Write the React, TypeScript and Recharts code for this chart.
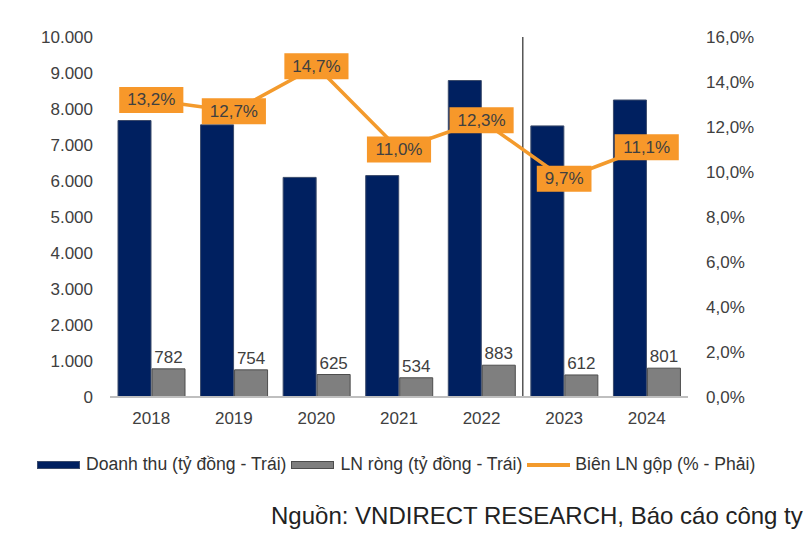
import React from 'react';
import {
  ComposedChart,
  Bar,
  Line,
  XAxis,
  YAxis,
  LabelList,
  ReferenceLine,
} from 'recharts';

const years = ['2018', '2019', '2020', '2021', '2022', '2023', '2024'];
const revenue = [7680, 7560, 6100, 6150, 8790, 7530, 8250];
const netProfit = [782, 754, 625, 534, 883, 612, 801];
const grossMargin = [13.2, 12.7, 14.7, 11.0, 12.3, 9.7, 11.1];

const leftTicks = [0, 1000, 2000, 3000, 4000, 5000, 6000, 7000, 8000, 9000, 10000];
const rightTicks = [0, 2, 4, 6, 8, 10, 12, 14, 16];

const data = years.map((year, i) => ({
  year,
  revenue: revenue[i],
  netProfit: netProfit[i],
  margin: grossMargin[i],
}));

const NAVY = '#002060';
const GRAY = '#7f7f7f';
const ORANGE = '#f39a2c';
const TEXT = '#404040';
const FONT = '"Liberation Sans", Arial, sans-serif';

const fmtThousand = (v: number) =>
  v.toString().replace(/\B(?=(\d{3})+(?!\d))/g, '.');
const fmtPct = (v: number) => `${v.toFixed(1).replace('.', ',')}%`;

// orange box label for the margin line
const MarginLabel = (props: any) => {
  const { x, y, value } = props;
  const text = fmtPct(value);
  const w = text.replace(/[,%]/g, '').length * 9.45 + 4.7 + 15.1 + 16;
  const h = 26;
  return (
    <g>
      <rect x={x - w / 2} y={y - h / 2} width={w} height={h} fill="#f7982a" />
      <text
        x={x}
        y={y + 1}
        textAnchor="middle"
        dominantBaseline="middle"
        fill={TEXT}
        fontSize={17}
        fontFamily={FONT}
      >
        {text}
      </text>
    </g>
  );
};

const legendItems = [
  { label: 'Doanh thu (tỷ đồng - Trái)', kind: 'bar', color: NAVY, stroke: '#3b4b6b' },
  { label: 'LN ròng (tỷ đồng - Trái)', kind: 'bar', color: GRAY, stroke: '#4d4d4d' },
  { label: 'Biên LN gộp (% - Phải)', kind: 'line', color: ORANGE, stroke: ORANGE },
];

const App = () => {
  return (
    <div
      style={{
        position: 'absolute',
        left: 0,
        top: 0,
        width: 804,
        height: 535,
        background: '#fff',
        fontFamily: FONT,
      }}
    >
      <ComposedChart
        width={804}
        height={440}
        data={data}
        margin={{ top: 37, right: 0, left: 0, bottom: 13 }}
        barGap={1}
      >
        <XAxis
          dataKey="year"
          axisLine={{ stroke: '#bfbfbf', strokeWidth: 2 }}
          tickLine={false}
          tickMargin={9}
          height={30}
          tick={{ fontSize: 17, fill: TEXT, fontFamily: FONT }}
        />
        <YAxis
          yAxisId="left"
          width={110}
          domain={[0, 10000]}
          ticks={leftTicks}
          tickFormatter={fmtThousand}
          axisLine={false}
          tickLine={false}
          tickMargin={11}
          tick={{ fontSize: 17, fill: TEXT, fontFamily: FONT }}
        />
        <YAxis
          yAxisId="right"
          orientation="right"
          width={116}
          domain={[0, 16]}
          ticks={rightTicks}
          tickFormatter={fmtPct}
          axisLine={false}
          tickLine={false}
          tickMargin={12}
          tick={{ fontSize: 17, fill: TEXT, fontFamily: FONT }}
        />
        <ReferenceLine
          yAxisId="left"
          x="2023"
          position="start"
          stroke="#000"
          strokeWidth={1}
        />
        <Bar
          yAxisId="left"
          dataKey="revenue"
          fill={NAVY}
          stroke="#3b4b6b"
          barSize={33}
          isAnimationActive={false}
        />
        <Bar
          yAxisId="left"
          dataKey="netProfit"
          fill={GRAY}
          stroke="#4d4d4d"
          barSize={33}
          isAnimationActive={false}
        >
          <LabelList
            dataKey="netProfit"
            position="top"
            offset={6}
            style={{ fill: TEXT, fontSize: 17, fontFamily: FONT }}
          />
        </Bar>
        <Line
          yAxisId="right"
          dataKey="margin"
          stroke={ORANGE}
          strokeWidth={3.5}
          dot={false}
          isAnimationActive={false}
        >
          <LabelList dataKey="margin" content={MarginLabel} />
        </Line>
      </ComposedChart>

      {/* legend */}
      <div
        style={{
          position: 'absolute',
          left: 37,
          top: 454,
          display: 'flex',
          alignItems: 'center',
          fontSize: 17.6,
          color: '#333',
          whiteSpace: 'nowrap',
        }}
      >
        {legendItems.map((item) => (
          <div key={item.label} style={{ display: 'flex', alignItems: 'center', marginRight: 5 }}>
            {item.kind === 'bar' ? (
              <span
                style={{
                  display: 'inline-block',
                  width: 41,
                  height: 6,
                  background: item.color,
                  border: `1px solid ${item.stroke}`,
                  marginRight: 6,
                }}
              />
            ) : (
              <span
                style={{
                  display: 'inline-block',
                  width: 43,
                  height: 4,
                  background: item.color,
                  marginRight: 5,
                }}
              />
            )}
            <span>{item.label}</span>
          </div>
        ))}
      </div>

      <div
        style={{
          position: 'absolute',
          left: 271,
          top: 502,
          fontSize: 24,
          color: '#222',
          whiteSpace: 'nowrap',
        }}
      >
        Nguồn: VNDIRECT RESEARCH, Báo cáo công ty
      </div>
    </div>
  );
};

export default App;
